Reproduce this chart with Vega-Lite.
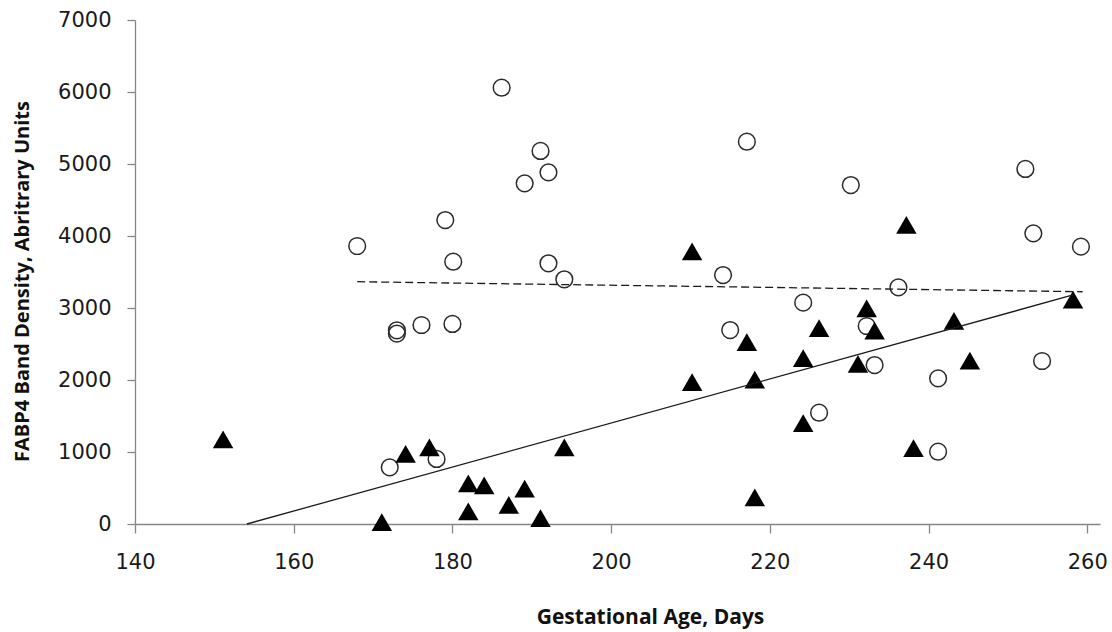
{
  "$schema": "https://vega.github.io/schema/vega-lite/v6.json",
  "width": 965,
  "height": 504,
  "autosize": {"type": "none"},
  "padding": {"left": 135, "top": 20, "right": 12, "bottom": 108},
  "background": "#ffffff",
  "config": {"view": {"stroke": null}},
  "datasets": {
    "circles": [
      {"age": 168, "density": 3861}, {"age": 186.2, "density": 6060}, {"age": 191.1, "density": 5181},
      {"age": 192.1, "density": 4884}, {"age": 189.1, "density": 4731}, {"age": 179.1, "density": 4222},
      {"age": 180.1, "density": 3643}, {"age": 192.1, "density": 3621}, {"age": 194.1, "density": 3399},
      {"age": 173.0, "density": 2690}, {"age": 173.0, "density": 2645}, {"age": 176.1, "density": 2764},
      {"age": 180.0, "density": 2778}, {"age": 172.1, "density": 787}, {"age": 178.0, "density": 903},
      {"age": 217.1, "density": 5310}, {"age": 214.1, "density": 3458}, {"age": 215.0, "density": 2694},
      {"age": 224.2, "density": 3074}, {"age": 226.2, "density": 1546}, {"age": 230.2, "density": 4708},
      {"age": 236.2, "density": 3287}, {"age": 232.2, "density": 2750}, {"age": 233.2, "density": 2208},
      {"age": 241.2, "density": 2023}, {"age": 241.2, "density": 1004}, {"age": 252.2, "density": 4931},
      {"age": 253.2, "density": 4037}, {"age": 259.2, "density": 3852}, {"age": 254.3, "density": 2264}
    ],
    "triangles": [
      {"age": 151.1, "density": 1175}, {"age": 171.1, "density": 25}, {"age": 174.1, "density": 975},
      {"age": 177.1, "density": 1065}, {"age": 182.0, "density": 565}, {"age": 182.0, "density": 175},
      {"age": 184.0, "density": 535}, {"age": 187.1, "density": 265}, {"age": 189.1, "density": 490},
      {"age": 191.1, "density": 80}, {"age": 194.1, "density": 1065}, {"age": 210.2, "density": 3785},
      {"age": 210.2, "density": 1970}, {"age": 217.1, "density": 2525}, {"age": 218.1, "density": 2005},
      {"age": 218.1, "density": 370}, {"age": 224.2, "density": 2305}, {"age": 224.2, "density": 1400},
      {"age": 226.2, "density": 2720}, {"age": 231.1, "density": 2225}, {"age": 232.2, "density": 2995},
      {"age": 233.2, "density": 2685}, {"age": 237.2, "density": 4155}, {"age": 238.1, "density": 1055},
      {"age": 243.2, "density": 2820}, {"age": 245.2, "density": 2270}, {"age": 258.2, "density": 3115}
    ],
    "solidTrend": [
      {"age": 154.1, "density": 0}, {"age": 258.2, "density": 3181}
    ],
    "dashedTrend": [
      {"age": 168.0, "density": 3365}, {"age": 259.4, "density": 3226}
    ]
  },
  "encoding": {
    "x": {
      "field": "age", "type": "quantitative",
      "scale": {"domain": [140, 261.6], "nice": false, "zero": false},
      "axis": {
        "values": [140, 160, 180, 200, 220, 240, 260],
        "format": "d",
        "title": "Gestational Age, Days",
        "grid": false,
        "domainColor": "#868686", "tickColor": "#868686", "tickSize": 9, "domainWidth": 1.3, "tickWidth": 1.3,
        "labelFont": "DejaVu Sans", "labelFontSize": 21, "labelColor": "#1a1a1a", "labelPadding": 18,
        "labelFlush": false, "labelOverlap": false,
        "titleFont": "Open Sans", "titleFontWeight": "bold", "titleFontSize": 21, "titleColor": "#111111",
        "titleX": 515, "titleY": 99, "titleBaseline": "alphabetic", "titleAnchor": null
      }
    },
    "y": {
      "field": "density", "type": "quantitative",
      "scale": {"domain": [0, 7000], "nice": false},
      "axis": {
        "values": [0, 1000, 2000, 3000, 4000, 5000, 6000, 7000],
        "format": "d",
        "title": "FABP4 Band Density, Abritrary Units",
        "grid": false,
        "domainColor": "#868686", "tickColor": "#868686", "tickSize": 8, "domainWidth": 1.3, "tickWidth": 1.3,
        "labelFont": "DejaVu Sans", "labelFontSize": 21, "labelColor": "#1a1a1a", "labelPadding": 16,
        "labelFlush": false, "labelOverlap": false,
        "titleFont": "Open Sans", "titleFontWeight": "bold", "titleFontSize": 20, "titleColor": "#111111",
        "titleX": -113, "titleY": 261, "titleBaseline": "middle", "titleAngle": -90, "titleAnchor": null
      }
    }
  },
  "layer": [
    {
      "data": {"name": "circles"},
      "mark": {"type": "point", "shape": "circle", "size": 280, "filled": false, "stroke": "#2b2b2b", "strokeWidth": 1.5, "opacity": 1}
    },
    {
      "data": {"name": "triangles"},
      "mark": {"type": "point", "shape": "triangle-up", "size": 420, "filled": true, "fill": "#000000", "opacity": 1}
    },
    {
      "data": {"name": "solidTrend"},
      "mark": {"type": "line", "color": "#1a1a1a", "strokeWidth": 1.3}
    },
    {
      "data": {"name": "dashedTrend"},
      "mark": {"type": "line", "color": "#1a1a1a", "strokeWidth": 1.3, "strokeDash": [8, 4]}
    }
  ]
}
